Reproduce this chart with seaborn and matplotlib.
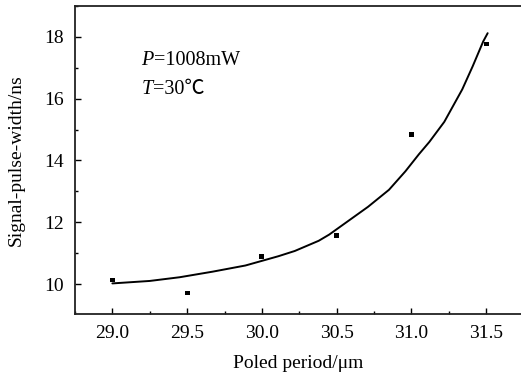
import numpy as np
import pandas as pd
import matplotlib
matplotlib.use("Agg")
import matplotlib.pyplot as plt
from matplotlib.ticker import MultipleLocator
import seaborn as sns

# measured points
period = [29.0, 29.5, 30.0, 30.5, 31.0, 31.5]
width = [10.13, 9.71, 10.9, 11.58, 14.84, 17.77]

# fitted curve
fit_x = [29.0, 29.25, 29.45, 29.67, 29.89, 30.0, 30.11, 30.22, 30.38, 30.45, 30.58,
         30.71, 30.85, 30.96, 31.05, 31.12, 31.22, 31.34, 31.41, 31.48, 31.51]
fit_y = [10.02, 10.1, 10.22, 10.4, 10.6, 10.75, 10.9, 11.07, 11.4, 11.6, 12.05,
         12.5, 13.05, 13.65, 14.2, 14.6, 15.25, 16.3, 17.05, 17.85, 18.12]

xtick_labels = ['29.0', '29.5', '30.0', '30.5', '31.0', '31.5']

sns.set_style("ticks")
plt.rcParams['font.family'] = ['Liberation Serif', 'Noto Sans CJK SC']
plt.rcParams['text.color'] = 'black'
plt.rcParams['axes.labelcolor'] = 'black'
plt.rcParams['xtick.color'] = 'black'
plt.rcParams['ytick.color'] = 'black'

fig = plt.figure(figsize=(5.21, 3.77), dpi=100)
ax = fig.add_axes([75/521, 63/377, 1 - 75/521 + 0.002, (314 - 6)/377])

sns.lineplot(x=fit_x, y=fit_y, ax=ax, color='black', linewidth=1.4, sort=True)
sns.scatterplot(x=period, y=width, ax=ax, color='black', marker='s', s=12, edgecolor='none')

ax.set_xlim(28.75, 31.74)
ax.set_ylim(9.03, 19.0)
ax.xaxis.set_minor_locator(MultipleLocator(0.25))
ax.yaxis.set_minor_locator(MultipleLocator(1))
ax.set_xticks([float(t) for t in xtick_labels])
ax.set_xticklabels(xtick_labels)
ax.set_yticks([10, 12, 14, 16, 18])
ax.tick_params(which='both', direction='in', labelsize=14)
ax.tick_params(which='major', length=4, width=1)
ax.tick_params(which='minor', length=2.5, width=1)
ax.tick_params(axis='x', pad=8)
ax.tick_params(axis='y', pad=8)

ax.spines['right'].set_visible(False)
for s in ['left', 'bottom', 'top']:
    ax.spines[s].set_linewidth(1.3)
    ax.spines[s].set_color('#222222')

ax.set_xlabel('Poled period/μm', fontsize=14, labelpad=9)
ax.set_ylabel('Signal-pulse-width/ns', fontsize=14, labelpad=14)

t1 = ax.text(0.149, 0.81, 'P', transform=ax.transAxes, fontsize=14.5, style='italic')
ax.annotate('=1008mW', xy=(1, 0), xycoords=t1, fontsize=14.5, va='bottom')
t2 = ax.text(0.149, 0.715, 'T', transform=ax.transAxes, fontsize=14.5, style='italic')
ax.annotate('=30℃', xy=(1, 0), xycoords=t2, fontsize=14.5, va='bottom')

fig.savefig('out.png', dpi=100)
